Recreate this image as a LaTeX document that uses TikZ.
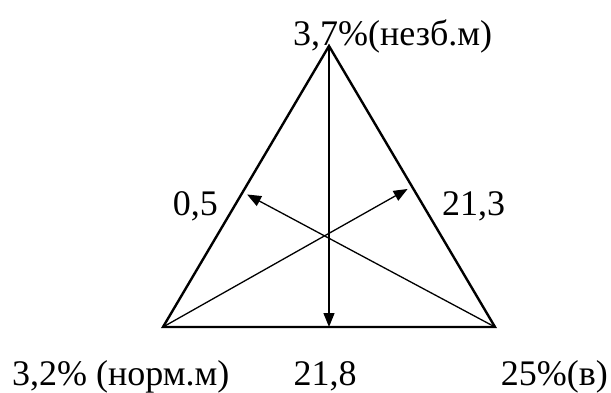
\documentclass[tikz,border=0pt]{standalone}
\usepackage{fontspec}
\setmainfont{Liberation Serif}
\usepackage{tikz}
\usetikzlibrary{arrows.meta,calc}
\tikzset{
  side/.style={line width=2.4pt, line join=miter},
  ar/.style={-{Triangle[length=14pt,width=11pt]}, line width=1.3pt, shorten >=5pt},
  vr/.style={-{Triangle[length=14pt,width=11pt]}, line width=1.3pt},
  lbl/.style={inner sep=0pt, font=\fontsize{36}{40}\selectfont},
}
\begin{document}
\begin{tikzpicture}[x=1pt, y=-1pt]
    \useasboundingbox (0,0) rectangle (611,392);
    % vertices
    \coordinate (top) at (329,46);
    \coordinate (bl) at (163,327);
    \coordinate (br) at (495,327);
    \coordinate (bm) at ($(bl)!.5!(br)$);
    \coordinate (ls) at ($(bl)!.48!(top)$);
    \coordinate (rs) at ($(br)!.5!(top)$);
    \draw[side] (top) -- (bl) -- (br) -- cycle;
    % arrows
    \draw[vr] (top) -- (bm);
    \draw[ar] (br) -- (ls);
    \draw[ar] (bl) -- (rs);
    % labels
    \node[lbl, anchor=base west] (nezb) at (293,45) {3,7\%(незб.м)};
    \node[lbl, anchor=base east] (left) at (218,215) {0,5};
    \node[lbl, anchor=base west] (right) at (442,215) {21,3};
    \node[lbl, anchor=base west] (norm) at (12,385) {3,2\% (норм.м)};
    \node[lbl, anchor=base] (mid) at (325,385) {21,8};
    \node[lbl, anchor=base east] (v) at (608,385) {25\%(в)};
\end{tikzpicture}
\end{document}
